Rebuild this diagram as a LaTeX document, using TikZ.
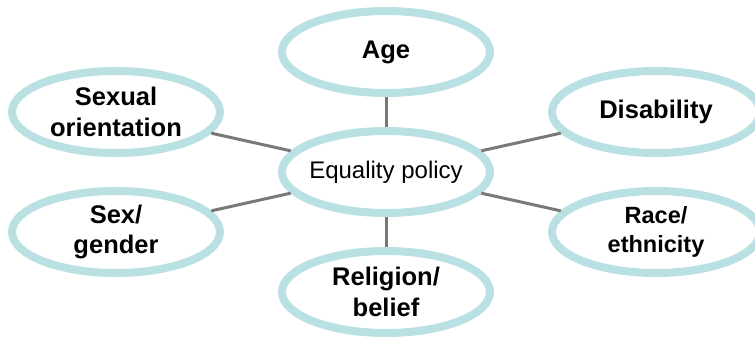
\documentclass[tikz,border=0pt]{standalone}
\usepackage{fontspec}
\setmainfont{Liberation Sans}
\usetikzlibrary{shapes.geometric}
\definecolor{ringc}{RGB}{185,224,227}
\definecolor{linkc}{RGB}{120,120,120}
\tikzset{
  ell/.style={ellipse, draw=ringc, line width=8pt, fill=white, minimum width=208pt, minimum height=82pt, inner sep=0pt},
  lbl/.style={font=\fontsize{25.5}{30.6}\selectfont\bfseries, align=center, text=black},
  lblsm/.style={font=\fontsize{23.5}{28.2}\selectfont\bfseries, align=center, text=black},
  lblc/.style={font=\fontsize{24}{28}\selectfont, align=center, text=black},
  link/.style={draw=linkc, line width=3pt}
}
\begin{document}
\begin{tikzpicture}[x=1pt,y=-1pt]
\useasboundingbox (0,0) rectangle (755,337);
\node[ell, label={[lblc]center:Equality policy}] (eq) at (386,172) {};
\node[ell, label={[lbl]center:Age}] (age) at (386,52) {};
\node[ell, label={[lbl]center:Sexual\\orientation}] (sex) at (116,112) {};
\node[ell, label={[lbl]center:Disability}] (dis) at (656,112) {};
\node[ell, label={[lbl]center:Sex/\\gender}] (gen) at (116,232) {};
\node[ell, label={[lblsm]center:Race/\\ethnicity}] (race) at (656,232) {};
\node[ell, label={[lbl]center:Religion/\\belief}] (rel) at (386,292) {};
\draw[link] (eq) -- (age);
\draw[link] (eq) -- (sex);
\draw[link] (eq) -- (dis);
\draw[link] (eq) -- (gen);
\draw[link] (eq) -- (race);
\draw[link] (eq) -- (rel);
\end{tikzpicture}
\end{document}
